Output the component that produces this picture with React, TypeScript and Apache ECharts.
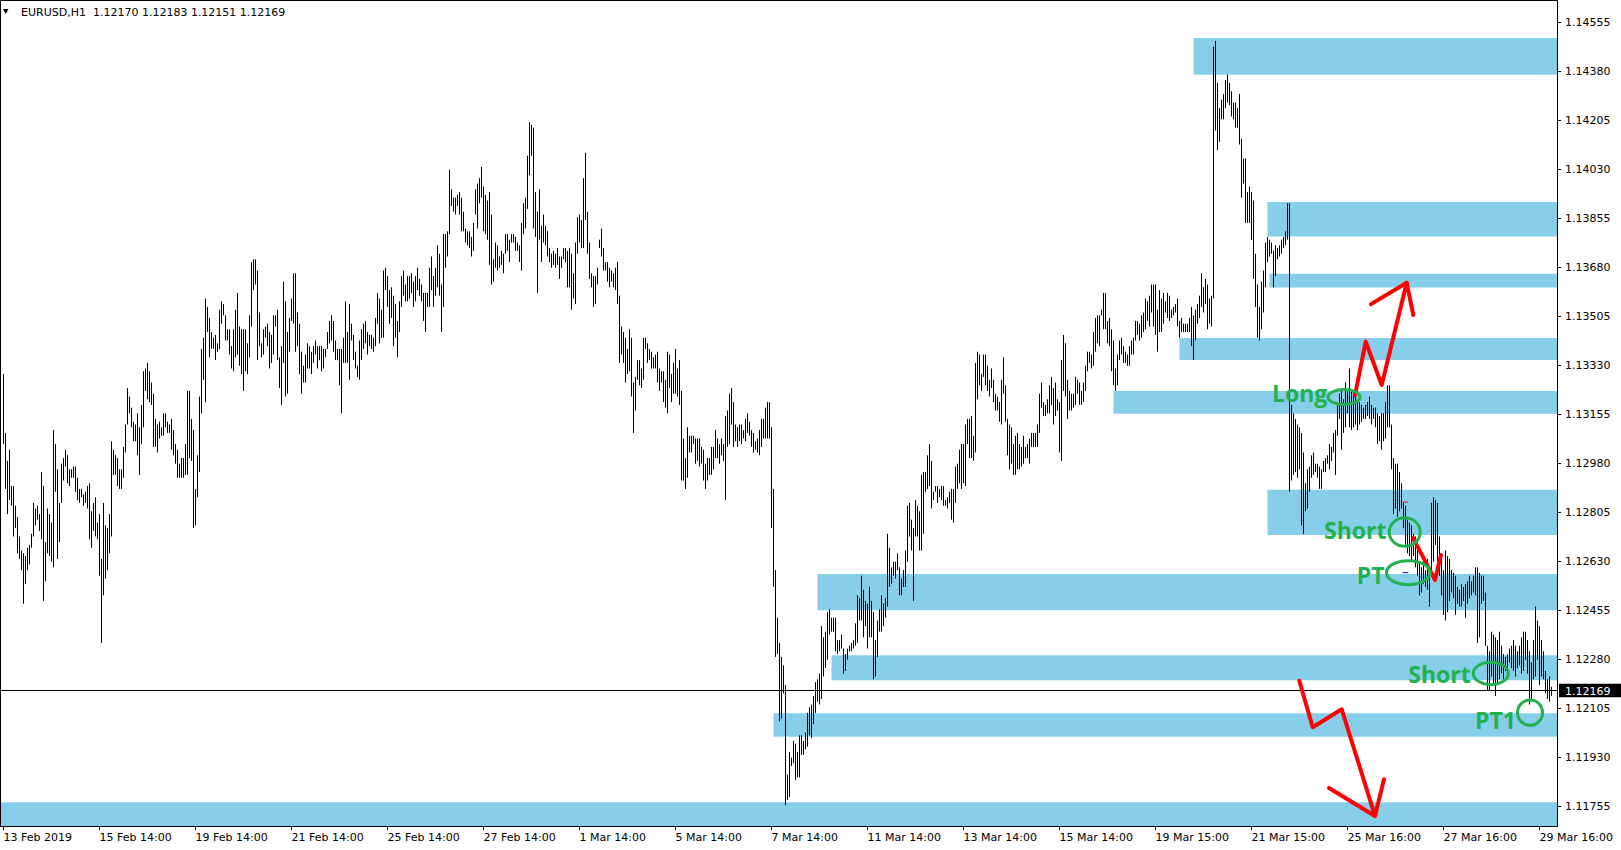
import { useEffect, useRef } from "react";
import * as echarts from "echarts";

// ---------- data ----------
const SYMBOL = "EURUSD";
const PERIOD = "H1";
const BASE_PRICE = 1.11; // bar values below are pips above this price
const PIP = 0.0001;

// H1 bars, bar 0 = 13 Feb 2019 14:00 ; highs in pips above 1.1100
const highPips = [
  230, 209, 199, 203, 190, 190, 183, 179, 172, 167,
  166, 165, 168, 169, 173, 184, 182, 183, 180, 195,
  190, 170, 182, 180, 177, 210, 205, 196, 184, 198,
  200, 203, 201, 196, 196, 197, 197, 193, 189, 189,
  187, 188, 190, 191, 181, 184, 186, 177, 180, 164,
  184, 176, 175, 180, 206, 203, 201, 200, 196, 196,
  204, 212, 225, 222, 218, 213, 212, 216, 211, 219,
  231, 232, 234, 231, 227, 223, 214, 212, 213, 211,
  216, 216, 213, 212, 214, 210, 205, 203, 198, 200,
  200, 205, 224, 224, 214, 210, 189, 201, 222, 239,
  243, 257, 254, 250, 245, 243, 244, 241, 253, 256,
  255, 251, 246, 246, 240, 246, 253, 259, 247, 246,
  246, 246, 241, 251, 270, 271, 271, 267, 252, 241,
  246, 247, 248, 245, 244, 251, 251, 253, 236, 240,
  263, 256, 245, 250, 257, 266, 266, 252, 248, 238,
  233, 237, 241, 240, 238, 240, 242, 240, 240, 240,
  239, 239, 245, 249, 251, 249, 242, 239, 239, 239,
  243, 256, 245, 255, 248, 244, 238, 233, 242, 246,
  248, 249, 245, 244, 244, 243, 250, 259, 257, 253,
  267, 268, 265, 260, 261, 258, 255, 249, 256, 265,
  267, 262, 265, 265, 266, 263, 265, 268, 264, 262,
  259, 259, 259, 268, 272, 265, 268, 276, 273, 262,
  280, 280, 281, 303, 296, 293, 293, 294, 295, 293,
  288, 282, 281, 281, 279, 284, 296, 298, 300, 304,
  297, 294, 292, 295, 287, 271, 277, 276, 272, 274,
  273, 280, 280, 278, 280, 280, 279, 277, 276, 284,
  291, 293, 308, 320, 319, 318, 295, 288, 296, 283,
  287, 283, 281, 275, 273, 274, 273, 275, 272, 272,
  275, 275, 274, 275, 273, 266, 277, 286, 287, 285,
  300, 309, 288, 277, 266, 265, 265, 268, 278, 282,
  275, 270, 270, 268, 267, 266, 268, 270, 258, 247,
  245, 243, 239, 246, 243, 227, 229, 235, 235, 232,
  243, 243, 241, 239, 238, 236, 237, 238, 232, 231,
  231, 228, 238, 237, 230, 234, 239, 232, 235, 224,
  207, 200, 211, 208, 208, 208, 207, 207, 207, 204,
  203, 198, 200, 200, 204, 204, 210, 207, 205, 207,
  205, 215, 217, 223, 225, 220, 212, 211, 212, 212,
  210, 214, 216, 213, 210, 209, 206, 207, 210, 214,
  214, 218, 220, 220, 211, 189, 160, 143, 134, 129,
  126, 119, 87, 95, 93, 99, 98, 95, 101, 101,
  99, 102, 109, 111, 112, 115, 120, 121, 123, 140,
  136, 138, 145, 146, 143, 143, 143, 135, 135, 137,
  132, 130, 132, 133, 134, 135, 141, 151, 150, 158,
  153, 149, 148, 154, 149, 145, 135, 142, 146, 151,
  148, 150, 173, 168, 161, 163, 163, 166, 161, 157,
  160, 167, 183, 184, 178, 175, 185, 183, 181, 194,
  195, 195, 201, 205, 199, 188, 190, 190, 189, 190,
  190, 185, 186, 188, 189, 189, 197, 198, 203, 205,
  205, 212, 214, 214, 215, 208, 234, 238, 237, 230,
  237, 237, 233, 228, 232, 228, 223, 222, 220, 228,
  236, 226, 214, 212, 211, 205, 208, 209, 205, 204,
  208, 204, 205, 207, 209, 209, 209, 212, 223, 227,
  220, 219, 221, 226, 229, 225, 227, 221, 220, 235,
  244, 241, 228, 224, 223, 223, 229, 228, 227, 224,
  227, 233, 238, 238, 237, 245, 250, 251, 251, 253,
  259, 259, 249, 250, 246, 242, 232, 237, 242, 243,
  240, 238, 237, 240, 242, 243, 249, 249, 248, 251,
  252, 257, 256, 258, 262, 262, 262, 253, 260, 257,
  259, 256, 259, 258, 253, 254, 255, 257, 249, 250,
  248, 248, 248, 250, 254, 251, 253, 255, 258, 266,
  261, 264, 262, 257, 258, 347, 349, 334, 325, 328,
  330, 335, 337, 334, 331, 327, 327, 325, 330, 314,
  307, 307, 295, 297, 295, 292, 273, 262, 254, 263,
  267, 277, 279, 278, 277, 274, 276, 275, 276, 278,
  279, 281, 291, 291, 219, 216, 214, 212, 211, 209,
  202, 191, 196, 197, 201, 202, 198, 198, 197, 196,
  199, 200, 201, 205, 204, 209, 210, 219, 223, 225,
  221, 227, 224, 232, 224, 224, 223, 220, 220, 219,
  218, 219, 220, 222, 219, 218, 218, 216, 215, 216,
  216, 220, 226, 226, 212, 200, 198, 198, 195, 191,
  184, 183, 178, 177, 176, 173, 172, 169, 163, 161,
  163, 160, 164, 161, 184, 186, 185, 184, 172, 166,
  160, 167, 165, 164, 160, 159, 158, 154, 153, 155,
  154, 155, 156, 158, 156, 158, 161, 161, 159, 158,
  158, 152, 133, 131, 138, 137, 136, 135, 138, 133,
  130, 129, 130, 132, 133, 135, 133, 131, 133, 136,
  138, 138, 135, 131, 127, 135, 147, 142, 140, 135,
  131, 124, 121, 122, 118.3,
];

// lows in pips above 1.1100
const lowPips = [
  205, 189, 180, 185, 183, 172, 175, 166, 164, 160,
  148, 155, 160, 162, 168, 172, 176, 178, 174, 171,
  149, 156, 166, 165, 163, 161, 188, 164, 170, 184,
  192, 197, 191, 190, 193, 193, 188, 185, 184, 186,
  183, 184, 182, 171, 168, 174, 172, 171, 158, 134,
  151, 157, 160, 166, 172, 194, 194, 190, 189, 189,
  193, 202, 212, 216, 211, 206, 206, 201, 194, 205,
  211, 224, 221, 220, 219, 204, 204, 202, 207, 208,
  208, 211, 209, 209, 203, 201, 198, 193, 193, 193,
  193, 194, 194, 200, 199, 175, 176, 186, 195, 216,
  228, 220, 245, 236, 239, 239, 235, 238, 239, 248,
  251, 242, 242, 237, 232, 231, 236, 237, 233, 230,
  224, 231, 230, 236, 247, 260, 262, 235, 240, 236,
  237, 243, 240, 232, 234, 237, 247, 235, 225, 219,
  234, 222, 223, 238, 249, 248, 238, 240, 230, 223,
  227, 227, 232, 232, 230, 234, 237, 232, 235, 231,
  232, 236, 239, 241, 242, 238, 235, 235, 226, 216,
  234, 234, 234, 228, 242, 235, 232, 229, 228, 235,
  239, 241, 237, 240, 239, 238, 240, 248, 241, 243,
  243, 260, 254, 248, 250, 240, 243, 236, 245, 254,
  258, 256, 256, 257, 259, 254, 256, 260, 258, 256,
  249, 245, 254, 254, 260, 254, 258, 261, 258, 245,
  254, 268, 272, 280, 290, 288, 287, 290, 287, 281,
  281, 277, 276, 275, 272, 274, 287, 282, 291, 293,
  281, 280, 278, 269, 262, 263, 268, 267, 268, 269,
  266, 273, 274, 270, 277, 277, 274, 274, 270, 267,
  280, 282, 289, 301, 308, 282, 279, 259, 278, 270,
  277, 276, 272, 270, 268, 269, 268, 269, 264, 268,
  271, 270, 261, 261, 253, 257, 255, 273, 277, 275,
  275, 285, 273, 264, 261, 254, 255, 262, 275, 272,
  267, 267, 263, 261, 263, 261, 260, 255, 234, 237,
  234, 227, 230, 231, 222, 209, 217, 228, 226, 225,
  228, 239, 234, 235, 232, 232, 232, 227, 224, 227,
  220, 218, 216, 225, 220, 223, 223, 222, 219, 192,
  192, 189, 193, 202, 202, 205, 198, 199, 197, 198,
  192, 189, 192, 194, 194, 196, 200, 200, 198, 201,
  199, 185, 204, 205, 212, 204, 206, 204, 206, 205,
  207, 206, 209, 208, 204, 202, 203, 202, 201, 204,
  207, 207, 207, 207, 175, 154, 129, 130, 106, 107,
  116, 76, 78, 79, 90, 91, 85, 86, 86, 94,
  94, 96, 97, 101, 100, 105, 109, 113, 112, 114,
  122, 125, 128, 137, 138, 138, 131, 130, 131, 132,
  123, 124, 128, 131, 131, 132, 133, 134, 142, 142,
  136, 140, 132, 136, 136, 121, 122, 129, 138, 138,
  140, 143, 147, 154, 155, 158, 157, 160, 151, 151,
  154, 154, 163, 172, 167, 149, 172, 172, 167, 167,
  173, 188, 189, 190, 182, 185, 188, 184, 186, 185,
  183, 183, 182, 184, 178, 177, 184, 189, 191, 189,
  191, 190, 205, 200, 200, 199, 202, 221, 226, 224,
  229, 226, 224, 222, 225, 220, 217, 217, 213, 212,
  223, 213, 201, 196, 198, 194, 194, 196, 196, 197,
  198, 200, 200, 198, 204, 204, 204, 204, 209, 218,
  215, 215, 216, 216, 219, 212, 215, 217, 202, 199,
  224, 222, 214, 217, 217, 218, 219, 223, 219, 219,
  220, 224, 231, 234, 232, 233, 238, 241, 240, 251,
  246, 246, 241, 240, 231, 226, 224, 226, 235, 237,
  234, 234, 233, 233, 237, 237, 242, 244, 242, 243,
  245, 246, 249, 247, 252, 247, 244, 238, 245, 245,
  248, 252, 250, 249, 250, 251, 252, 247, 243, 245,
  245, 245, 245, 245, 240, 235, 242, 248, 250, 254,
  252, 255, 246, 248, 247, 257, 317, 310, 313, 321,
  321, 325, 327, 326, 322, 321, 318, 318, 312, 293,
  298, 284, 284, 284, 278, 264, 254, 243, 242, 246,
  252, 261, 270, 272, 273, 261, 265, 271, 272, 273,
  275, 276, 278, 188, 192, 194, 195, 193, 196, 176,
  173, 181, 182, 188, 193, 194, 195, 193, 189, 189,
  195, 195, 198, 196, 199, 202, 194, 208, 214, 203,
  209, 211, 216, 211, 210, 211, 212, 210, 212, 213,
  214, 214, 215, 214, 212, 214, 211, 205, 206, 203,
  206, 207, 211, 211, 196, 180, 182, 179, 181, 182,
  175, 169, 166, 165, 163, 165, 161, 158, 151, 152,
  155, 154, 153, 147, 159, 163, 169, 163, 158, 151,
  144, 142, 145, 149, 152, 150, 144, 148, 147, 147,
  149, 143, 148, 150, 151, 152, 151, 134, 136, 148,
  149, 133, 117, 117, 122, 119, 115, 119, 121, 123,
  121, 124, 124, 127, 125, 124, 122, 125, 126, 123,
  124, 128, 123, 112, 113, 121, 122, 128, 119, 122,
  121, 116, 114, 113, 115.1,
];

// last bar quote shown in the header: open, high, low, close
const lastQuote = [1.1217, 1.12183, 1.12151, 1.12169];

// time axis: one label every 48 bars
const LABEL_EVERY = 48;
const timeLabels = [
  "13 Feb 2019", "15 Feb 14:00", "19 Feb 14:00", "21 Feb 14:00", "25 Feb 14:00",
  "27 Feb 14:00", "1 Mar 14:00", "5 Mar 14:00", "7 Mar 14:00", "11 Mar 14:00",
  "13 Mar 14:00", "15 Mar 14:00", "19 Mar 15:00", "21 Mar 15:00", "25 Mar 16:00",
  "27 Mar 16:00", "29 Mar 16:00",
];

// price scale labels
const priceTicks = [
  1.14555, 1.1438, 1.14205, 1.1403, 1.13855, 1.1368, 1.13505, 1.1333, 1.13155,
  1.1298, 1.12805, 1.1263, 1.12455, 1.1228, 1.12105, 1.1193, 1.11755,
];

// visible range of the chart window
const X_MIN = -1.25;
const X_MAX = 776.75;
const Y_MIN = 1.116861;
const Y_MAX = 1.146325;

// supply / demand zones (drawn from start bar to the right edge)
const zoneStart = [595, 632, 633, 588, 555, 632, 407, 414, 385, X_MIN];
const zoneTop = [1.145, 1.13915, 1.13658, 1.13429, 1.1324, 1.12887, 1.12586, 1.12296, 1.12089, 1.11771];
const zoneBottom = [1.14369, 1.13791, 1.13609, 1.1335, 1.13158, 1.12725, 1.12457, 1.12207, 1.12005, Y_MIN];

// hand-drawn annotations, anchored in [bar index, pips above 1.1100]
const upArrowPath = [[675.75, 222.5], [681.1, 241.6], [689.1, 226.1], [701.6, 262.6]];
const upArrowHead = [[683.75, 255.0], [701.6, 262.6], [704.9, 251.1]];
const downArrowPath = [[647.9, 120.5], [654.6, 103.9], [669.1, 110.3], [685.75, 72.2]];
const downArrowHead = [[662.75, 82.2], [685.75, 72.2], [690.25, 85.3]];
const tradePath = [[704.75, 171.5], [715.75, 156.5], [718.75, 165.4]];
const noteTexts = ["Long", "Short", "PT", "Short", "PT1"];
const noteAnchors = [[634.25, 223.1], [660.25, 174.4], [676.6, 158.1], [702.4, 122.8], [735.75, 106.5]];
const ringAnchors = [[670.25, 221.8], [700.6, 173.6], [702.4, 159.1], [743.65, 123.1], [763.25, 109.1]];
const ringRadii = [[16, 7.5], [15.5, 14.2], [21.8, 12], [17.5, 11.2], [12.5, 12.7]];
const tradeMarks = [
  { from: [699.6, 184.3], to: [702.4, 184.3], color: "#ff0000" },
  { from: [699.6, 159.1], to: [702.4, 159.1], color: "#0000ff" },
];

const AXIS_FONT = "DejaVu Sans";
const NOTE_FONT = "'Open Sans'";
const ZONE_COLOR = "#87CEEB";
const GREEN = "#22B14C";
const RED = "#FF0000";

export default function App() {
  const ref = useRef<HTMLDivElement | null>(null);

  useEffect(() => {
    const el = ref.current;
    if (!el) return;
    const chart = echarts.init(el, null, { renderer: "svg" });

    const bars = highPips.map((h, i) => [i, BASE_PRICE + lowPips[i] * PIP, BASE_PRICE + h * PIP]);
    const labelIdx = timeLabels.map((_, k) => k * LABEL_EVERY);

    chart.setOption({
      animation: false,
      backgroundColor: "#ffffff",
      grid: { left: 1, top: 1, width: 1556, height: 825, show: false },
      xAxis: {
        type: "value",
        min: X_MIN,
        max: X_MAX,
        axisLine: { show: true, onZero: false, lineStyle: { color: "#000", width: 1 } },
        axisTick: { show: true, length: 4, customValues: labelIdx, lineStyle: { color: "#000" } },
        axisLabel: {
          customValues: labelIdx,
          formatter: (v: number) => timeLabels[Math.round(v / LABEL_EVERY)] ?? "",
          align: "left",
          margin: 6,
          color: "#000",
          fontFamily: AXIS_FONT,
          fontSize: 11,
        },
        splitLine: { show: false },
      },
      yAxis: {
        type: "value",
        position: "right",
        min: Y_MIN,
        max: Y_MAX,
        axisLine: { show: true, onZero: false, lineStyle: { color: "#000", width: 1 } },
        axisTick: { show: true, length: 4, customValues: priceTicks, lineStyle: { color: "#000" } },
        axisLabel: {
          customValues: priceTicks,
          formatter: (v: number) => v.toFixed(5),
          margin: 8,
          color: "#000",
          fontFamily: AXIS_FONT,
          fontSize: 11,
        },
        splitLine: { show: false },
      },
      series: [
        {
          type: "custom",
          name: `${SYMBOL},${PERIOD}`,
          coordinateSystem: "cartesian2d",
          silent: true,
          z: 2,
          data: bars,
          encode: { x: 0, y: [1, 2] },
          renderItem: (_params: any, api: any) => {
            const i = api.value(0);
            const lo = api.coord([i, api.value(1)]);
            const hi = api.coord([i, api.value(2)]);
            const x = Math.round(lo[0] - 0.5) + 0.5;
            const y1 = Math.min(hi[1], lo[1] - 1);
            return {
              type: "line",
              shape: { x1: x, y1, x2: x, y2: lo[1] },
              style: { stroke: "#000", lineWidth: 1 },
            };
          },
          markArea: {
            silent: true,
            z: 1,
            itemStyle: { color: ZONE_COLOR, opacity: 1, borderWidth: 0 },
            label: { show: false },
            data: zoneStart.map((s, k) => [
              { xAxis: s, yAxis: zoneTop[k] },
              { xAxis: X_MAX, yAxis: zoneBottom[k] },
            ]),
          },
        },
      ],
    });

    const P = (a: number[]) =>
      chart.convertToPixel({ gridIndex: 0 }, [a[0], BASE_PRICE + a[1] * PIP]) as number[];
    const PP = (idx: number, price: number) =>
      chart.convertToPixel({ gridIndex: 0 }, [idx, price]) as number[];

    const redLine = (pts: number[][]) => ({
      type: "polyline",
      silent: true,
      z: 20,
      shape: { points: pts.map(P) },
      style: { stroke: RED, lineWidth: 4, fill: "none", lineJoin: "round", lineCap: "round" },
    });

    // current price line + price box on the scale
    const pL = PP(X_MIN, lastQuote[3]);
    const pR = PP(X_MAX, lastQuote[3]);
    const lineY = Math.round(pL[1] - 0.5) + 0.5;

    const graphics: any[] = [
      {
        type: "line",
        silent: true,
        z: 15,
        shape: { x1: pL[0], y1: lineY, x2: pR[0], y2: lineY },
        style: { stroke: "#000", lineWidth: 1 },
      },
      {
        type: "rect",
        silent: true,
        z: 40,
        shape: { x: pR[0] + 2, y: lineY - 6.8, width: 64, height: 13.6 },
        style: { fill: "#000" },
      },
      {
        type: "text",
        silent: true,
        z: 41,
        style: {
          x: pR[0] + 8,
          y: lineY + 0.5,
          text: lastQuote[3].toFixed(5),
          fill: "#fff",
          font: `11px ${AXIS_FONT}`,
          verticalAlign: "middle",
          align: "left",
        },
      },
      {
        type: "rect",
        silent: true,
        z: 30,
        shape: { x: 0.5, y: 0.5, width: 1557, height: 826 },
        style: { fill: "none", stroke: "#000", lineWidth: 1 },
      },
      {
        type: "polygon",
        silent: true,
        z: 30,
        shape: { points: [[3, 9], [8.5, 9], [5.75, 14]] },
        style: { fill: "#000" },
      },
      {
        type: "text",
        silent: true,
        z: 30,
        style: {
          x: 21,
          y: 12.5,
          text: `${SYMBOL},${PERIOD}  ${lastQuote.map((v) => v.toFixed(5)).join(" ")}`,
          fill: "#000",
          font: `11px ${AXIS_FONT}`,
          verticalAlign: "middle",
          align: "left",
        },
      },
      redLine(upArrowPath),
      redLine(upArrowHead),
      redLine(downArrowPath),
      redLine(downArrowHead),
      redLine(tradePath),
    ];

    tradeMarks.forEach((m) => {
      const a = P(m.from);
      const b = P(m.to);
      graphics.push({
        type: "line",
        silent: true,
        z: 19,
        shape: { x1: a[0], y1: a[1], x2: b[0], y2: b[1] },
        style: { stroke: m.color, lineWidth: 1 },
      });
    });

    ringAnchors.forEach((c, k) => {
      const p = P(c);
      graphics.push({
        type: "ellipse",
        silent: true,
        z: 21,
        shape: { cx: p[0], cy: p[1], rx: ringRadii[k][0], ry: ringRadii[k][1] },
        style: { fill: "none", stroke: GREEN, lineWidth: 3 },
      });
    });

    noteTexts.forEach((t, k) => {
      const p = P(noteAnchors[k]);
      graphics.push({
        type: "text",
        silent: true,
        z: 22,
        style: {
          x: p[0],
          y: p[1],
          text: t,
          fill: GREEN,
          font: `bold 23px ${NOTE_FONT}`,
          verticalAlign: "middle",
          align: "left",
        },
      });
    });

    chart.setOption({ graphic: graphics });

    return () => chart.dispose();
  }, []);

  return (
    <div
      ref={ref}
      style={{ position: "absolute", left: 0, top: 0, width: 1621, height: 850, background: "#fff" }}
    />
  );
}
